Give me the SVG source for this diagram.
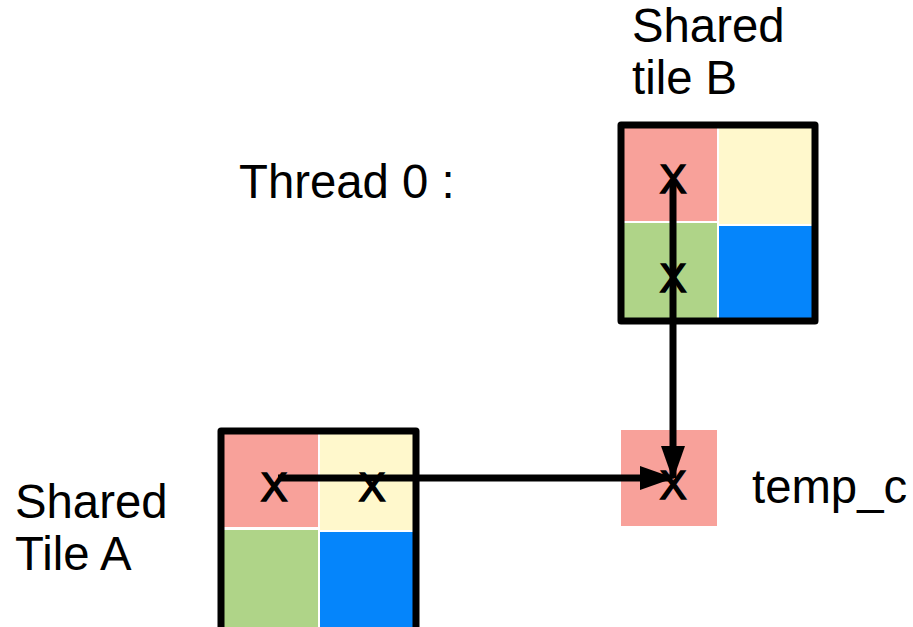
<svg xmlns="http://www.w3.org/2000/svg" width="913" height="627" viewBox="0 0 913 627">
<style>
text{font-family:"Liberation Sans",Arial,sans-serif;fill:#000}
.lbl{font-size:47.3px}
.x{font-size:40px;text-anchor:middle;stroke:#000;stroke-width:1.6}
.frame{fill:none;stroke:#000;stroke-width:7;stroke-linejoin:round}
.red{fill:#f8a19a}.yel{fill:#fff8cc}.grn{fill:#afd488}.blu{fill:#0585fb}
.conn{stroke:#000;stroke-width:7;fill:none}
</style>
<defs>
<marker id="arr" viewBox="0 0 34 24" refX="32" refY="12" markerWidth="34" markerHeight="24" orient="auto" markerUnits="userSpaceOnUse">
<path d="M0,0 L34,12 L0,24 z" fill="#000"/>
</marker>
</defs>
<rect width="913" height="627" fill="#fff"/>
<g id="tileB">
<rect class="red" x="624" y="128" width="93" height="93"/>
<rect class="yel" x="719" y="128" width="93" height="96"/>
<rect class="grn" x="624" y="223" width="93" height="95"/>
<rect class="blu" x="719" y="226" width="93" height="92"/>
<rect class="frame" x="621" y="125" width="194" height="196"/>
<text class="x" x="673" y="193">X</text>
<text class="x" x="673" y="292">X</text>
<text class="lbl" x="632" y="42">Shared</text>
<text class="lbl" x="632" y="94">tile B</text>
</g>
<g id="thread">
<text class="lbl" x="239" y="198">Thread 0 :</text>
</g>
<g id="tileA">
<rect class="red" x="224" y="434" width="94" height="93"/>
<rect class="yel" x="320" y="434" width="93" height="96"/>
<rect class="grn" x="224" y="530" width="94" height="100"/>
<rect class="blu" x="320" y="532" width="93" height="98"/>
<rect class="frame" x="221" y="431" width="195" height="205"/>
<text class="x" x="274" y="501">X</text>
<text class="x" x="372" y="501">X</text>
<text class="lbl" x="15" y="518">Shared</text>
<text class="lbl" x="15" y="570">Tile A</text>
</g>
<g id="tempc">
<rect class="red" x="621" y="430" width="96" height="96"/>
<text class="x" x="673" y="499">X</text>
<text class="lbl" x="752" y="503">temp_c</text>
</g>
<g id="connectors">
<line class="conn" x1="278" y1="478" x2="672" y2="478" marker-end="url(#arr)"/>
<line class="conn" x1="673" y1="180" x2="673" y2="478" marker-end="url(#arr)"/>
</g>
</svg>
